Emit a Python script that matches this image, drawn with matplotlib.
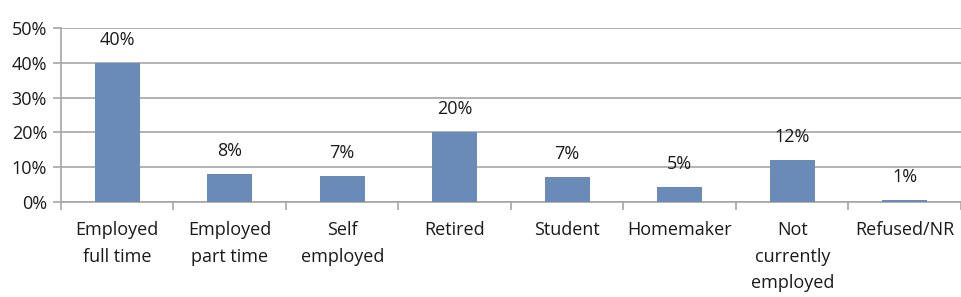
import matplotlib
matplotlib.use("Agg")
import matplotlib.pyplot as plt
import numpy as np

categories = ["Employed\nfull time", "Employed\npart time", "Self\nemployed", "Retired",
              "Student", "Homemaker", "Not\ncurrently\nemployed", "Refused/NR"]
values = [40.0, 8.1, 7.4, 20.1, 7.2, 4.4, 12.2, 0.6]
labels = ["40%", "8%", "7%", "20%", "7%", "5%", "12%", "1%"]
yticks = [0, 10, 20, 30, 40, 50]

plt.rcParams['font.family'] = ['Open Sans', 'DejaVu Sans']

fig = plt.figure(figsize=(9.62, 2.97), dpi=100)
ax = fig.add_axes([61/962, 95/297, 900/962, 174/297])

x = np.arange(len(categories))
bar_color = "#6a8ab7"
ax.bar(x, values, width=0.4, color=bar_color, zorder=3)

for xi, v, lab in zip(x, values, labels):
    ax.annotate(lab, (xi, v), xytext=(0, 10), textcoords="offset points",
                ha="center", va="bottom", fontsize=13, color="#1a1a1a")

ax.set_xlim(-0.5, len(categories) - 0.5)
ax.set_ylim(0, 50)
ax.set_yticks(yticks)
ax.set_yticklabels([f"{t}%" for t in yticks], fontsize=13, color="#1a1a1a")
ax.yaxis.grid(True, color="#a6a6a6", linewidth=1.2, zorder=0)
ax.set_axisbelow(True)

ax.set_xticks(np.arange(len(categories) + 1) - 0.5, minor=False)
ax.set_xticklabels([])
ax.set_xticks(x, minor=True)
ax.set_xticklabels(categories, minor=True, fontsize=13, color="#1a1a1a", linespacing=1.6)
ax.tick_params(axis="x", which="minor", length=0, pad=14)
ax.tick_params(axis="x", which="major", length=6, color="#a6a6a6", width=1.2)
ax.tick_params(axis="y", length=6, color="#a6a6a6", width=1.2, pad=4)

for s in ["top", "right"]:
    ax.spines[s].set_visible(False)
for s in ["left", "bottom"]:
    ax.spines[s].set_color("#a6a6a6")
    ax.spines[s].set_linewidth(1.2)

fig.savefig("out.png", dpi=100)
